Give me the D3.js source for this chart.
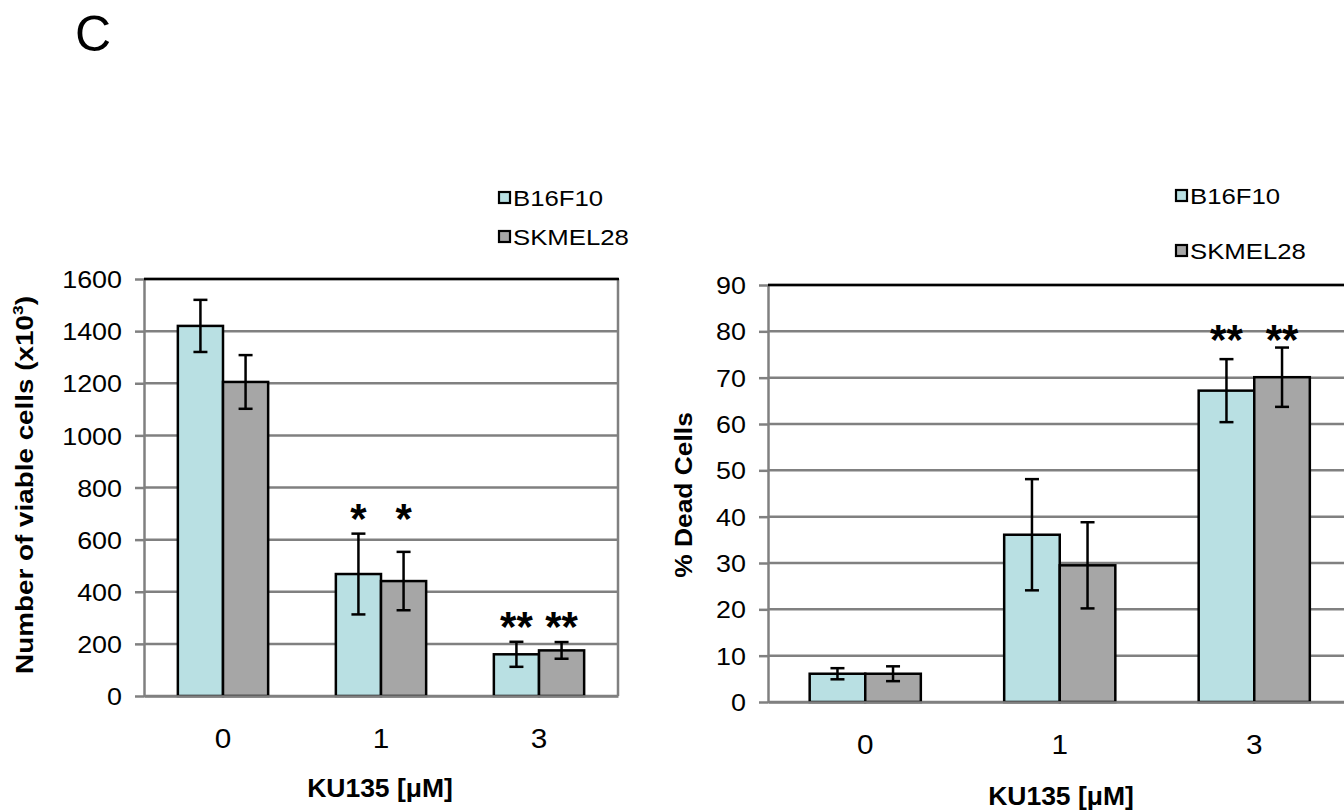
<!DOCTYPE html>
<html>
<head>
  <meta charset="utf-8">
  <title>KU135 viable / dead cells</title>
  <script src="https://cdn.jsdelivr.net/npm/d3@7/dist/d3.min.js"></script>
  <style>
    body { margin: 0; background: #fff; }
    svg { display: block; font-family: "Liberation Sans", Arial, sans-serif; }
  </style>
</head>
<body>
<svg id="chart" width="1344" height="810"></svg>
<script>
// data
const cats = ["0", "1", "3"];
const series = ["B16F10", "SKMEL28"];

const viableB16 = [1420, 468, 160];
const viableB16Err = [100, 155, 48];
const viableSK = [1205, 441, 175];
const viableSKErr = [103, 112, 32];
const viableStars = [["", ""], ["*", "*"], ["**", "**"]];
const viableTicks = [0, 200, 400, 600, 800, 1000, 1200, 1400, 1600];

const deadB16 = [6.1, 36.1, 67.2];
const deadB16Err = [1.2, 12.0, 6.8];
const deadSK = [6.1, 29.5, 70.1];
const deadSKErr = [1.6, 9.3, 6.4];
const deadStars = [["", ""], ["", ""], ["**", "**"]];
const deadTicks = [0, 10, 20, 30, 40, 50, 60, 70, 80, 90];

const fills = { B16F10: "#b9e0e3", SKMEL28: "#a6a6a6" };
const gridCol = "#808080";
const FONT = "Liberation Sans, Arial, sans-serif";

const svg = d3.select("#chart");

// helper: text with a horizontal stretch (the figure's text is drawn wide)
function label(parent, x, y, str, o) {
  o = o || {};
  const g = parent.append("g")
    .attr("transform", `translate(${x},${y}) rotate(${o.rot || 0}) scale(${o.sx || 1.12},1)`);
  const t = g.append("text")
    .attr("text-anchor", o.anchor || "middle")
    .attr("font-size", o.size || 21)
    .attr("font-weight", o.bold ? "bold" : "normal")
    .attr("fill", "#000");
  if (str != null) t.text(str);
  return t;
}

function drawChart(cfg) {
  const g = svg.append("g");
  const y = d3.scaleLinear().domain([0, cfg.max]).range([cfg.yBot, cfg.yTop]);
  const x = d3.scaleBand().domain(cats).range([cfg.x0, cfg.x1])
    .paddingInner(1.5 / 3.5).paddingOuter(0.75 / 3.5);
  const xs = d3.scaleBand().domain(series).range([0, x.bandwidth()]);

  // gridlines
  g.append("g").selectAll("line").data(cfg.ticks).join("line")
    .attr("x1", cfg.x0).attr("x2", cfg.x1)
    .attr("y1", d => y(d)).attr("y2", d => y(d))
    .attr("stroke", gridCol).attr("stroke-width", 2.5);
  if (cfg.rightBorder) {
    g.append("line").attr("x1", cfg.x1).attr("x2", cfg.x1)
      .attr("y1", cfg.yTop).attr("y2", cfg.yBot)
      .attr("stroke", gridCol).attr("stroke-width", 2.5);
  }

  // y axis
  const ya = g.append("g").attr("transform", `translate(${cfg.x0},0)`)
    .call(d3.axisLeft(y).tickValues(cfg.ticks).tickSize(9).tickSizeOuter(0).tickFormat(d3.format("d")));
  ya.select(".domain").attr("stroke", gridCol).attr("stroke-width", 2.5);
  ya.selectAll(".tick line").attr("stroke", gridCol).attr("stroke-width", 2.5);
  ya.selectAll(".tick text")
    .attr("x", null).attr("dy", "0.36em")
    .attr("transform", `translate(-22,0) scale(1.12,1)`)
    .attr("font-size", 24).attr("fill", "#000").attr("font-family", FONT);

  // top border (black)
  g.append("line").attr("x1", cfg.x0).attr("x2", cfg.x1 + 1)
    .attr("y1", cfg.yTop).attr("y2", cfg.yTop)
    .attr("stroke", "#000").attr("stroke-width", 2.5);

  // bars
  const rows = [];
  cats.forEach((c, i) => {
    cfg.vals.forEach((v, k) => {
      rows.push({ cat: c, i: i, s: series[k], v: v[i], e: cfg.errs[k][i], star: cfg.stars[i][k] });
    });
  });
  g.append("g").selectAll("rect").data(rows).join("rect")
    .attr("x", d => x(d.cat) + xs(d.s))
    .attr("y", d => y(d.v))
    .attr("width", xs.bandwidth())
    .attr("height", d => y(0) - y(d.v))
    .attr("fill", d => fills[d.s])
    .attr("stroke", "#000").attr("stroke-width", 2.5);

  // x axis
  const xa = g.append("g").attr("transform", `translate(0,${cfg.yBot})`)
    .call(d3.axisBottom(x).tickSize(0).tickSizeOuter(0));
  xa.select(".domain").attr("stroke", gridCol).attr("stroke-width", 2.5);
  xa.selectAll(".tick text")
    .attr("y", null).attr("dy", null)
    .attr("transform", `translate(0,52) scale(1.1,1)`)
    .attr("font-size", 27).attr("fill", "#000").attr("font-family", FONT);

  // error bars
  const eb = g.append("g").attr("stroke", "#000").attr("stroke-width", 2.5);
  rows.forEach(d => {
    const cx = x(d.cat) + xs(d.s) + xs.bandwidth() / 2;
    eb.append("line").attr("x1", cx).attr("x2", cx).attr("y1", y(d.v + d.e)).attr("y2", y(d.v - d.e));
    eb.append("line").attr("x1", cx - 7).attr("x2", cx + 7).attr("y1", y(d.v + d.e)).attr("y2", y(d.v + d.e));
    eb.append("line").attr("x1", cx - 7).attr("x2", cx + 7).attr("y1", y(d.v - d.e)).attr("y2", y(d.v - d.e));
  });

  // significance stars
  cats.forEach((c, i) => {
    const grp = rows.filter(r => r.i === i);
    const top = d3.max(grp, r => r.v + r.e);
    grp.forEach(r => {
      if (!r.star) return;
      const cx = x(r.cat) + xs(r.s) + xs.bandwidth() / 2;
      g.append("text").attr("x", cx).attr("y", y(top) - cfg.starGap + 19)
        .attr("text-anchor", "middle").attr("font-size", 42).attr("font-weight", "bold")
        .text(r.star);
    });
  });

  // legend
  series.forEach((s, k) => {
    const ly = cfg.legendY[k];
    g.append("rect").attr("x", cfg.legendX).attr("y", ly - 6)
      .attr("width", 11).attr("height", 11)
      .attr("fill", fills[s]).attr("stroke", "#000").attr("stroke-width", 2.2);
    label(g, cfg.legendX + 14, ly + 8, s, { anchor: "start", size: 23, sx: 1.12 });
  });

  // axis titles
  label(g, cfg.xTitleX, cfg.xTitleY, "KU135 [\u03bcM]", { size: 25, bold: true, sx: 1.06 });
  const yt = label(g, cfg.yTitleX, cfg.yTitleY, null, { rot: -90, size: 24, bold: true, sx: cfg.yTitleSx });
  yt.append("tspan").text(cfg.yTitle);
  if (cfg.yTitleSup) {
    yt.append("tspan").attr("font-size", 15).attr("dy", -10).text(cfg.yTitleSup);
    yt.append("tspan").attr("dy", 10).text(")");
  }
}

drawChart({
  x0: 144, x1: 618, yTop: 279, yBot: 696, max: 1600, ticks: viableTicks,
  vals: [viableB16, viableSK], errs: [viableB16Err, viableSKErr], stars: viableStars,
  starGap: 20, rightBorder: true,
  legendX: 499, legendY: [198, 237],
  xTitleX: 380, xTitleY: 797,
  yTitleX: 33, yTitleY: 485, yTitle: "Number of viable cells (x10", yTitleSup: "3", yTitleSx: 1.16
});

drawChart({
  x0: 768, x1: 1351.5, yTop: 285, yBot: 702, max: 90, ticks: deadTicks,
  vals: [deadB16, deadSK], errs: [deadB16Err, deadSKErr], stars: deadStars,
  starGap: 13, rightBorder: false,
  legendX: 1176, legendY: [196, 251],
  xTitleX: 1061, xTitleY: 805,
  yTitleX: 692, yTitleY: 495, yTitle: "% Dead Cells", yTitleSup: null, yTitleSx: 1.1
});

// panel letter
svg.append("text").attr("x", 75).attr("y", 51)
  .attr("font-size", 50).text("C");
</script>
</body>
</html>
